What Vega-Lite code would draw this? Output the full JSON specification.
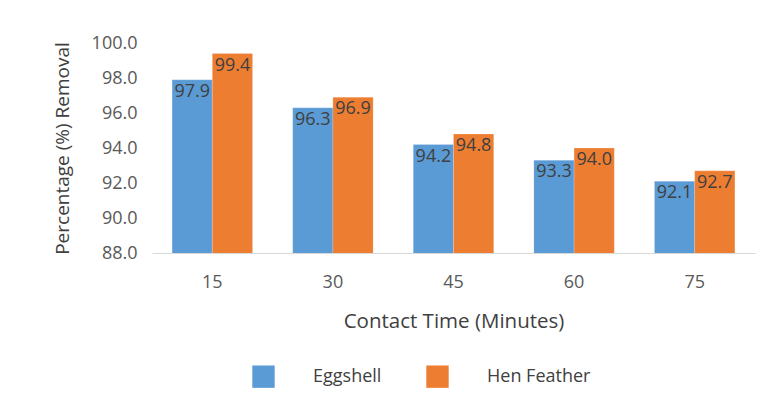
{
  "$schema": "https://vega.github.io/schema/vega-lite/v6.json",
  "width": 603,
  "height": 210,
  "autosize": "none",
  "padding": {"left": 152, "top": 43, "right": 19, "bottom": 159},
  "background": "white",
  "config": {
    "view": {"stroke": null},
    "font": "Open Sans",
    "axis": {"labelColor": "#595959", "titleColor": "#404040", "labelFontSize": 18, "titleFontSize": 19, "titleFontWeight": "normal"},
    "legend": {"labelColor": "#404040", "labelFontSize": 18}
  },
  "data": {
    "values": [
      {"time": "15", "adsorbent": "Eggshell", "removal": 97.9},
      {"time": "15", "adsorbent": "Hen Feather", "removal": 99.4},
      {"time": "30", "adsorbent": "Eggshell", "removal": 96.3},
      {"time": "30", "adsorbent": "Hen Feather", "removal": 96.9},
      {"time": "45", "adsorbent": "Eggshell", "removal": 94.2},
      {"time": "45", "adsorbent": "Hen Feather", "removal": 94.8},
      {"time": "60", "adsorbent": "Eggshell", "removal": 93.3},
      {"time": "60", "adsorbent": "Hen Feather", "removal": 94.0},
      {"time": "75", "adsorbent": "Eggshell", "removal": 92.1},
      {"time": "75", "adsorbent": "Hen Feather", "removal": 92.7}
    ]
  },
  "encoding": {
    "x": {
      "field": "time",
      "type": "ordinal",
      "scale": {"paddingInner": 0.333, "paddingOuter": 0.1667},
      "axis": {
        "title": "Contact Time (Minutes)",
        "titleFontSize": 20.5,
        "labelAngle": 0,
        "labelPadding": 20,
        "titlePadding": 20,
        "ticks": false,
        "domainColor": "#d9d9d9",
        "domainWidth": 1
      }
    },
    "xOffset": {"field": "adsorbent", "type": "nominal", "sort": ["Eggshell", "Hen Feather"]},
    "y": {
      "field": "removal",
      "type": "quantitative",
      "scale": {"domain": [88, 100], "zero": false, "nice": false},
      "axis": {
        "title": "Percentage (%) Removal",
        "values": [88, 90, 92, 94, 96, 98, 100],
        "format": ".1f",
        "grid": false,
        "domain": false,
        "ticks": false,
        "labelPadding": 15,
        "titlePadding": 19
      }
    }
  },
  "layer": [
    {
      "mark": {"type": "bar", "clip": true, "stroke": "#ffffff", "strokeOpacity": 0.35, "strokeWidth": 0.5},
      "encoding": {
        "color": {
          "field": "adsorbent",
          "type": "nominal",
          "scale": {"domain": ["Eggshell", "Hen Feather"], "range": ["#5B9BD5", "#ED7D31"]},
          "legend": {
            "title": null,
            "orient": "none",
            "direction": "horizontal",
            "legendX": 100,
            "legendY": 322,
            "symbolType": "square",
            "symbolSize": 500,
            "symbolStrokeWidth": 0,
            "labelOffset": 38,
            "columnPadding": 44
          }
        }
      }
    },
    {
      "mark": {"type": "text", "baseline": "top", "dy": 3, "fontSize": 18, "color": "#404040"},
      "encoding": {
        "text": {"field": "removal", "type": "quantitative", "format": ".1f"}
      }
    }
  ]
}
